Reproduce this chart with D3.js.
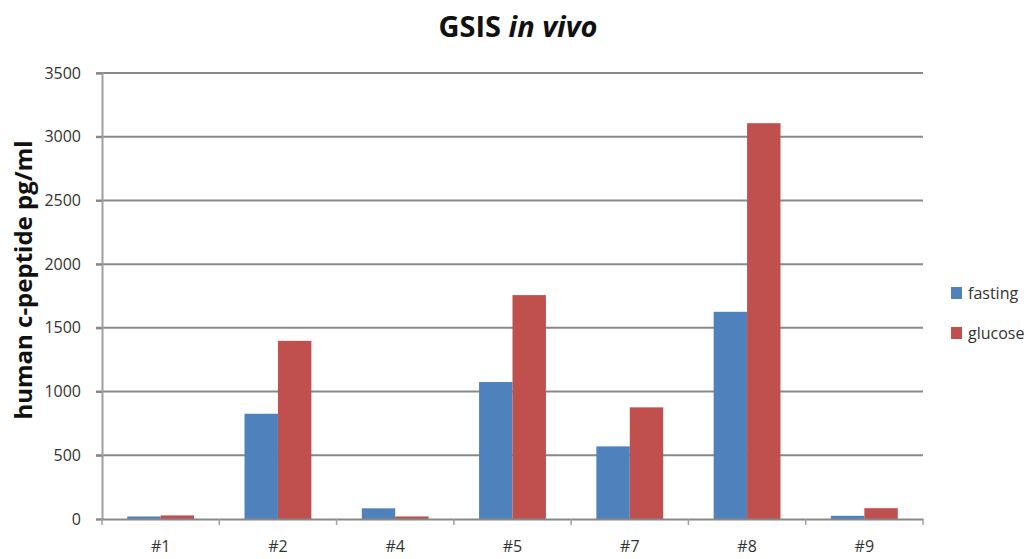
<!DOCTYPE html>
<html>
<head>
<meta charset="utf-8">
<script src="https://cdn.jsdelivr.net/npm/d3@7"></script>
<style>
  html, body { margin: 0; padding: 0; background: #fff; }
  svg { display: block; }
  text { font-family: "Open Sans", "Liberation Sans", sans-serif; }
</style>
</head>
<body>
<svg id="chart" width="1030" height="559"></svg>
<script>
const categories = ["#1", "#2", "#4", "#5", "#7", "#8", "#9"];
const seriesNames = ["fasting", "glucose"];
const fasting = [20, 826, 84, 1075, 570, 1626, 25];
const glucose = [28, 1398, 20, 1757, 876, 3106, 85];
const yTicks = [0, 500, 1000, 1500, 2000, 2500, 3000, 3500];
const colors = ["#4F81BD", "#C0504D"];

const svg = d3.select("#chart");
const mLeft = 102, mRight = 923, mTop = 73, mBottom = 519;

const x = d3.scaleBand().domain(categories).range([mLeft, mRight]).paddingInner(0.43).paddingOuter(0.215);
const xs = d3.scaleBand().domain(seriesNames).range([0, x.bandwidth()]);
const y = d3.scaleLinear().domain([0, 3500]).range([mBottom, mTop]);

// gridlines
svg.append("g").selectAll("line").data(yTicks.filter(d => d > 0)).join("line")
  .attr("x1", mLeft - 6).attr("x2", mRight)
  .attr("y1", d => y(d)).attr("y2", d => y(d))
  .attr("stroke", "#888").attr("stroke-width", 2);

// y axis
const yAxis = svg.append("g").attr("transform", `translate(${mLeft},0)`)
  .call(d3.axisLeft(y).tickValues(yTicks).tickSize(6).tickPadding(15).tickFormat(d3.format("d")));
yAxis.select(".domain").attr("stroke", "#a0a0a0").attr("stroke-width", 2);
yAxis.selectAll(".tick line").attr("stroke", "#888").attr("stroke-width", 2);
yAxis.selectAll(".tick text").attr("fill", "#333").attr("font-size", 16);

// bars
const data = categories.map((c, i) => ({ c, vals: [fasting[i], glucose[i]] }));
svg.append("g").selectAll("g").data(data).join("g")
  .attr("transform", d => `translate(${x(d.c)},0)`)
  .selectAll("rect").data(d => d.vals.map((v, j) => ({ v, s: seriesNames[j], j })))
  .join("rect")
  .attr("x", d => xs(d.s)).attr("width", xs.bandwidth())
  .attr("y", d => y(d.v)).attr("height", d => y(0) - y(d.v))
  .attr("fill", d => colors[d.j]);

// x axis
const xAxis = svg.append("g").attr("transform", `translate(0,${mBottom})`)
  .call(d3.axisBottom(x).tickSize(0).tickPadding(22));
xAxis.select(".domain").attr("stroke", "#888").attr("stroke-width", 2);
xAxis.selectAll(".tick text").attr("fill", "#333").attr("font-size", 16);
// category boundary ticks
const bounds = d3.range(categories.length + 1).map(i => mLeft + i * (mRight - mLeft) / categories.length);
svg.append("g").selectAll("line").data(bounds).join("line")
  .attr("x1", d => d).attr("x2", d => d).attr("y1", mBottom).attr("y2", mBottom + 6)
  .attr("stroke", "#a0a0a0").attr("stroke-width", 1.5);

// title
const title = svg.append("text").attr("x", 518).attr("y", 37).attr("text-anchor", "middle")
  .attr("font-size", 29).attr("font-weight", "bold").attr("fill", "#111");
title.append("tspan").text("GSIS ");
title.append("tspan").attr("font-style", "italic").text("in vivo");

// y-axis title
svg.append("text").attr("transform", "translate(32,280) rotate(-90)")
  .attr("text-anchor", "middle").attr("font-size", 24).attr("font-weight", "bold").attr("fill", "#111")
  .text("human  c-peptide pg/ml");

// legend
const legend = svg.append("g").selectAll("g").data(seriesNames).join("g")
  .attr("transform", (d, i) => `translate(951,${293 + i * 40})`);
legend.append("rect").attr("x", 0).attr("y", -6).attr("width", 11).attr("height", 12)
  .attr("fill", (d, i) => colors[i]);
legend.append("text").attr("x", 17).attr("y", 0).attr("dy", "0.35em")
  .attr("font-size", 16).attr("fill", "#333").text(d => d);
</script>
</body>
</html>
